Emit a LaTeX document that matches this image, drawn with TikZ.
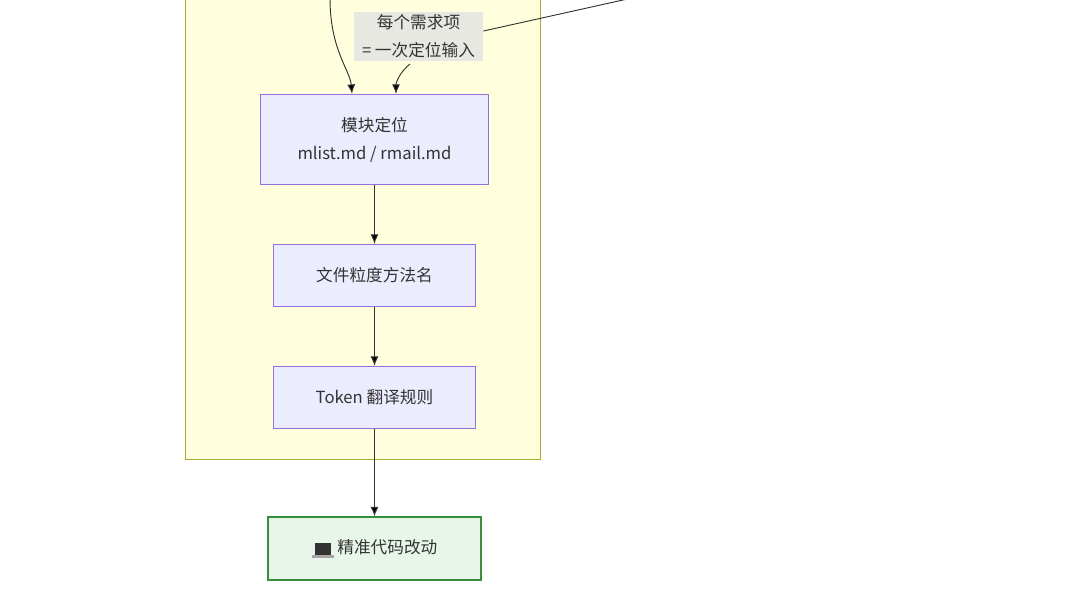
\documentclass[tikz,border=0pt]{standalone}
\usepackage{fontspec}
\setmainfont{Noto Sans CJK SC}
\usetikzlibrary{positioning,arrows.meta}
\definecolor{clusterfill}{HTML}{FFFFDE}
\definecolor{clusterline}{HTML}{AAAA33}
\definecolor{boxfill}{HTML}{ECECFF}
\definecolor{boxline}{HTML}{9370DB}
\definecolor{donefill}{HTML}{E8F5E9}
\definecolor{doneline}{HTML}{388E3C}
\definecolor{labelfill}{HTML}{E8E8E3}
\definecolor{edgecol}{HTML}{333333}
\tikzset{
  stage/.style={draw=boxline, fill=boxfill, line width=0.6pt, align=center,
    text=edgecol, font=\fontsize{12.5}{21}\selectfont, inner sep=0pt},
  flow/.style={draw=edgecol, line width=0.7pt, -{Latex[length=7pt,width=6pt]}},
}
\begin{document}
\begin{tikzpicture}[x=0.75pt, y=-0.75pt]
\useasboundingbox (0,0) rectangle (1080,591);
\fill[white] (0,0) rectangle (1080,591);
\draw[clusterline, fill=clusterfill, line width=0.6pt] (185,-10) rectangle (540,459);
\node[stage, minimum width=171pt, minimum height=68pt] (locate) at (374.5,139.5) {模块定位\\mlist.md / rmail.md};
\node[stage, minimum width=151pt, minimum height=47pt] (grain) at (374.5,275.5) {文件粒度方法名};
\node[stage, minimum width=151pt, minimum height=47pt] (token) at (374.5,397.5) {Token 翻译规则};
\node[stage, draw=doneline, fill=donefill, line width=1.4pt, minimum width=160pt, minimum height=47pt] (done) at (374.5,548.5)
  {\tikz[baseline=-1pt,x=0.75pt,y=-0.75pt]{\fill[black!80] (0,-9) rectangle (16,3); \fill[gray!70] (-3,3) rectangle (19,6);}\ 精准代码改动};
\coordinate (inleft) at (330,-2);
\coordinate (inright) at (632,-2);
\draw[flow] (inleft) .. controls (330,50) and (350,70) .. (locate.north -| 352,0);
\node[fill=labelfill, align=center, text=edgecol, font=\fontsize{12.5}{21}\selectfont, inner sep=2pt, minimum width=97pt] (each) at (418.5,36.5) {每个需求项\\= 一次定位输入};
\draw[edgecol, line width=0.7pt] (inright) -- (each.east |- 0,31);
\draw[flow] (410,64) .. controls (400,72) and (396,82) .. (locate.north -| 396,0);
\draw[flow] (locate) -- (grain);
\draw[flow] (grain) -- (token);
\draw[flow] (token) -- (done);
\end{tikzpicture}
\end{document}
